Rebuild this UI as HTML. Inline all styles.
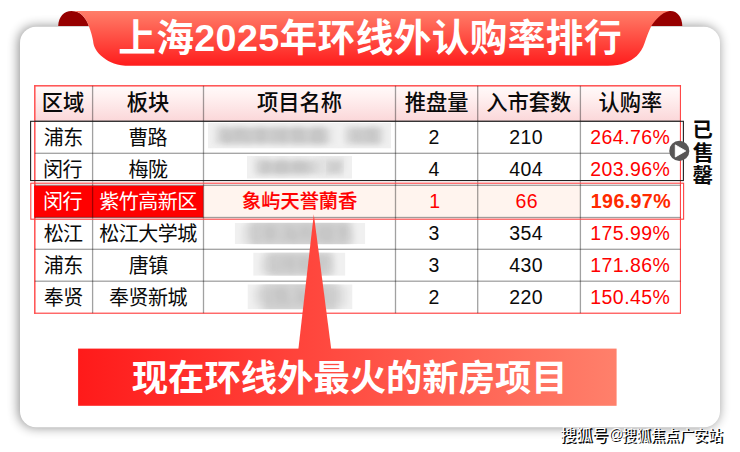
<!DOCTYPE html>
<html lang="zh-CN"><head><meta charset="utf-8"><title>上海2025年环线外认购率排行</title>
<style>
html,body{margin:0;padding:0;background:#fff;}
body{width:740px;height:452px;position:relative;overflow:hidden;font-family:"Liberation Sans",sans-serif;}
svg{position:absolute;left:0;top:0;}
svg text{font-family:"Liberation Sans","Noto Sans CJK SC",sans-serif;}
.sr{position:absolute;left:0;top:0;width:1px;height:1px;overflow:hidden;opacity:0;font-size:1px;}
</style></head><body>
<svg width="740" height="452" viewBox="0 0 740 452">
<defs>
<linearGradient id="rib" x1="0" y1="11.1" x2="0" y2="65.7" gradientUnits="userSpaceOnUse"><stop offset="0" stop-color="#ff7e69"/><stop offset="1" stop-color="#ff1c1c"/></linearGradient>
<linearGradient id="ban" x1="78.3" y1="0" x2="616.6" y2="0" gradientUnits="userSpaceOnUse"><stop offset="0" stop-color="#ff1a1a"/><stop offset="1" stop-color="#ff806b"/></linearGradient>
<linearGradient id="hdr" x1="0" y1="86" x2="0" y2="121" gradientUnits="userSpaceOnUse"><stop offset="0" stop-color="#fffafa"/><stop offset="0.3" stop-color="#fff1f1"/><stop offset="1" stop-color="#fbd7d9"/></linearGradient>
<filter id="cs" x="-10%" y="-15%" width="120%" height="130%"><feGaussianBlur stdDeviation="5.8"/></filter>
<filter id="bl" x="-20%" y="-50%" width="140%" height="200%"><feGaussianBlur stdDeviation="5 2.6"/></filter>
<filter id="bl2" x="-20%" y="-50%" width="140%" height="200%"><feGaussianBlur stdDeviation="3"/></filter>
</defs>
<rect x="18.7" y="26.8" width="700" height="400.4" rx="16" fill="#000" opacity="0.46" filter="url(#cs)"/>
<rect x="20" y="26.8" width="700" height="400.4" rx="16" fill="#fff"/>
<path d="M58.2,25.9 C58.5,17 64,11.1 71.5,11.1 C80,11.1 85.5,17 88.8,25.9 Z" fill="#960000"/><path d="M682.3,25.9 C682,17.3 677.5,11.1 670.5,11.1 L660,11.1 L650,25.9 Z" fill="#960000"/>
<path d="M71.5,11.1 C80,11.1 85.5,17 88.8,25.9 C91,32 92.5,37 93.1,41 C93.6,46 95.5,52 103.9,57.9 C109,61.9 117,65.7 130,65.7 L608,65.7 C622,65.7 630,61.8 636.7,56 C640,53 643,48 644.6,43.1 C647,36 649,30.5 651.5,25.8 C654,22 661,12.5 669.5,11.1 Z" fill="url(#rib)"/>
<text x="118.18" y="51.05" font-size="37.68" font-weight="bold" fill="#fff" textLength="503.4">上海2025年环线外认购率排行</text>
<rect x="34.8" y="85.8" width="645.7" height="35.4" fill="url(#hdr)"/>
<rect x="203.4" y="185.3" width="376.9" height="32.2" fill="#fff4ee"/>
<clipPath id="bc1"><rect x="207.8" y="122.9" width="183.4" height="25.6"/></clipPath><g clip-path="url(#bc1)"><rect x="207.8" y="122.9" width="183.4" height="25.6" fill="#f0f0f0"/><rect x="219" y="127.4" width="111" height="16.6" fill="#d4d4d4" filter="url(#bl)"/><rect x="350" y="127.4" width="32" height="16.6" fill="#d4d4d4" filter="url(#bl)"/><g filter="url(#bl2)" opacity="0.10"><text x="213.34" y="142.7" font-size="19" font-weight="bold" fill="#222">海购率排售最</text><text x="343.51" y="142.7" font-size="19" font-weight="bold" fill="#222">新房</text></g></g>
<clipPath id="bc2"><rect x="246.8" y="155.9" width="105.2" height="22.8"/></clipPath><g clip-path="url(#bc2)"><rect x="246.8" y="155.9" width="105.2" height="22.8" fill="#f0f0f0"/><rect x="259" y="160.4" width="57" height="13.8" fill="#d4d4d4" filter="url(#bl)"/><rect x="329" y="160.4" width="12" height="13.8" fill="#d4d4d4" filter="url(#bl)"/><g filter="url(#bl2)" opacity="0.10"><text x="253.54" y="174.3" font-size="19" font-weight="bold" fill="#222">罄最新</text><text x="311.64" y="174.3" font-size="19" font-weight="bold" fill="#222">项</text><text x="327.54" y="174.3" font-size="19" font-weight="bold" fill="#222">环</text></g></g>
<clipPath id="bc3"><rect x="234.7" y="222.8" width="130.6" height="21.4"/></clipPath><g clip-path="url(#bc3)"><rect x="234.7" y="222.8" width="130.6" height="21.4" fill="#f0f0f0"/><rect x="250" y="219.8" width="100" height="27.4" fill="#d4d4d4" filter="url(#bl)"/><g filter="url(#bl2)" opacity="0.10"><text x="241.56" y="240.5" font-size="19" font-weight="bold" fill="#222">房率海购罄售</text></g></g>
<clipPath id="bc4"><rect x="253.2" y="252.6" width="92.2" height="23.2"/></clipPath><g clip-path="url(#bc4)"><rect x="253.2" y="252.6" width="92.2" height="23.2" fill="#f0f0f0"/><rect x="268" y="251.6" width="63" height="25.2" fill="#d4d4d4" filter="url(#bl)"/><g filter="url(#bl2)" opacity="0.10"><text x="259.2" y="271.2" font-size="19" font-weight="bold" fill="#222">最排新线</text></g></g>
<clipPath id="bc5"><rect x="247.5" y="284.3" width="105" height="25"/></clipPath><g clip-path="url(#bc5)"><rect x="247.5" y="284.3" width="105" height="25" fill="#f0f0f0"/><rect x="262" y="281.3" width="76" height="31" fill="#d4d4d4" filter="url(#bl)"/><g filter="url(#bl2)" opacity="0.10"><text x="253.43" y="303.8" font-size="19" font-weight="bold" fill="#222">购售海率房</text></g></g>
<rect x="34.05" y="85.1" width="1.5" height="228.7" fill="#ff5050"/>
<rect x="34.05" y="85.05" width="647" height="1.5" fill="#ff5050"/>
<rect x="679.9" y="85.1" width="1.05" height="228.7" fill="#ff4040"/>
<rect x="34.05" y="312.6" width="646.9" height="1.25" fill="#ff5050"/>
<rect x="34.1" y="185.8" width="169.3" height="31.7" fill="#ff0000"/>
<rect x="91.95" y="85.8" width="1.3" height="227.4" fill="rgba(0,0,0,0.37)"/>
<rect x="202.85" y="85.8" width="1.3" height="227.4" fill="rgba(0,0,0,0.37)"/>
<rect x="394.85" y="85.8" width="1.3" height="227.4" fill="rgba(0,0,0,0.37)"/>
<rect x="477.05" y="85.8" width="1.3" height="227.4" fill="rgba(0,0,0,0.37)"/>
<rect x="579.75" y="85.8" width="1.3" height="227.4" fill="rgba(0,0,0,0.37)"/>
<rect x="34.8" y="120.55" width="645.7" height="1.3" fill="rgba(0,0,0,0.37)"/>
<rect x="34.8" y="152.65" width="645.7" height="1.3" fill="rgba(0,0,0,0.37)"/>
<rect x="34.8" y="184.65" width="645.7" height="1.3" fill="rgba(0,0,0,0.37)"/>
<rect x="34.8" y="216.85" width="645.7" height="1.3" fill="rgba(0,0,0,0.37)"/>
<rect x="34.8" y="248.65" width="645.7" height="1.3" fill="rgba(0,0,0,0.37)"/>
<rect x="34.8" y="280.55" width="645.7" height="1.3" fill="rgba(0,0,0,0.37)"/>
<rect x="34.1" y="185.8" width="169.3" height="0.9" fill="#ff0000"/>
<rect x="30.6" y="121.3" width="652.8" height="59.25" fill="none" stroke="#222" stroke-width="1.1"/>
<rect x="30.8" y="183.2" width="652.8" height="36" fill="none" stroke="#ff4444" stroke-width="1.1"/>
<text x="41.75" y="110.3" font-size="21.25" font-weight="500" fill="#0a0a0a">区域</text>
<text x="126.74" y="110.3" font-size="21.25" font-weight="500" fill="#0a0a0a">板块</text>
<text x="257.02" y="110.3" font-size="21.25" font-weight="500" fill="#0a0a0a">项目名称</text>
<text x="404.78" y="110.3" font-size="21.25" font-weight="500" fill="#0a0a0a">推盘量</text>
<text x="486.31" y="110.3" font-size="21.25" font-weight="500" fill="#0a0a0a">入市套数</text>
<text x="598.57" y="110.3" font-size="21.25" font-weight="500" fill="#0a0a0a">认购率</text>
<text x="43.77" y="144.5" font-size="20" letter-spacing="-0.5" fill="#0a0a0a">浦东</text>
<text x="128.13" y="144.5" font-size="20" letter-spacing="-0.5" fill="#0a0a0a">曹路</text>
<text x="428.54" y="143.9" font-size="19.5" font-weight="500" fill="#0a0a0a">2</text>
<text x="509.23" y="143.9" font-size="19.5" font-weight="500" fill="#0a0a0a" textLength="33.3">210</text>
<text x="590.25" y="143.9" font-size="19.5" font-weight="500" fill="#ff0000" textLength="79.7">264.76%</text>
<text x="43.07" y="176.6" font-size="20" letter-spacing="-0.5" fill="#0a0a0a">闵行</text>
<text x="128.58" y="176.6" font-size="20" letter-spacing="-0.5" fill="#0a0a0a">梅陇</text>
<text x="428.54" y="176" font-size="19.5" font-weight="500" fill="#0a0a0a">4</text>
<text x="509.23" y="176" font-size="19.5" font-weight="500" fill="#0a0a0a" textLength="33.3">404</text>
<text x="590.25" y="176" font-size="19.5" font-weight="500" fill="#ff0000" textLength="79.7">203.96%</text>
<text x="43.07" y="208.6" font-size="20" letter-spacing="-0.5" fill="#fff">闵行</text>
<text x="99.37" y="208.6" font-size="20" letter-spacing="-0.5" fill="#fff">紫竹高新区</text>
<text x="242.12" y="207.7" font-size="19.2" font-weight="500" fill="#ff0000" stroke="#ff0000" stroke-width="0.17">象屿天誉蘭香</text>
<text x="429.24" y="208" font-size="19.5" font-weight="500" fill="#ff0000">1</text>
<text x="515.49" y="208" font-size="19.5" font-weight="500" fill="#ff0000" textLength="22.2">66</text>
<text x="590.78" y="208" font-size="19.6" font-weight="bold" fill="#ff2a00" textLength="79.8">196.97%</text>
<text x="43.63" y="240.8" font-size="20" letter-spacing="-0.5" fill="#0a0a0a">松江</text>
<text x="99.28" y="240.8" font-size="20" letter-spacing="-0.5" fill="#0a0a0a">松江大学城</text>
<text x="428.54" y="240.2" font-size="19.5" font-weight="500" fill="#0a0a0a">3</text>
<text x="509.23" y="240.2" font-size="19.5" font-weight="500" fill="#0a0a0a" textLength="33.3">354</text>
<text x="590.25" y="240.2" font-size="19.5" font-weight="500" fill="#ff0000" textLength="79.7">175.99%</text>
<text x="43.77" y="272.6" font-size="20" letter-spacing="-0.5" fill="#0a0a0a">浦东</text>
<text x="128.66" y="272.6" font-size="20" letter-spacing="-0.5" fill="#0a0a0a">唐镇</text>
<text x="428.54" y="272" font-size="19.5" font-weight="500" fill="#0a0a0a">3</text>
<text x="509.23" y="272" font-size="19.5" font-weight="500" fill="#0a0a0a" textLength="33.3">430</text>
<text x="590.25" y="272" font-size="19.5" font-weight="500" fill="#ff0000" textLength="79.7">171.86%</text>
<text x="43.66" y="304.5" font-size="20" letter-spacing="-0.5" fill="#0a0a0a">奉贤</text>
<text x="109.03" y="304.5" font-size="20" letter-spacing="-0.5" fill="#0a0a0a">奉贤新城</text>
<text x="428.54" y="303.9" font-size="19.5" font-weight="500" fill="#0a0a0a">2</text>
<text x="509.23" y="303.9" font-size="19.5" font-weight="500" fill="#0a0a0a" textLength="33.3">220</text>
<text x="590.25" y="303.9" font-size="19.5" font-weight="500" fill="#ff0000" textLength="79.7">150.45%</text>
<circle cx="679.3" cy="150.9" r="10.05" fill="#585656"/><path d="M675.3,144.9 L685.7,150.95 L675.3,157 Z" fill="#fff" stroke="#fff" stroke-width="0.9" stroke-linejoin="round"/>
<text x="692.55" y="137.18" font-size="20.3" font-weight="bold" fill="#0a0a0a">已</text>
<text x="692.68" y="160.48" font-size="21" font-weight="bold" fill="#0a0a0a">售</text>
<text x="692.6" y="183.24" font-size="20.6" font-weight="bold" fill="#0a0a0a">罄</text>
<path d="M313.8,214.2 L331.2,349 L298.4,349 Z" fill="url(#ban)"/>
<rect x="78.1" y="348.6" width="538.5" height="57.2" fill="url(#ban)"/>
<text x="131.76" y="390.8" font-size="36.35" font-weight="bold" fill="#fff">现在环线外最火的新房项目</text>
<text x="561.52" y="441.95" font-size="16" font-weight="500" fill="#050505" stroke="#050505" stroke-width="0.22">搜狐号</text><text x="560.18" y="440.7" font-size="16" fill="#fff">搜狐号</text>
<text x="609.66" y="439.7" font-size="14" font-weight="500" fill="#050505">@</text><text x="608.39" y="438.5" font-size="14.5" fill="#fff">@</text>
<text x="623.28" y="441.85" font-size="14.36" font-weight="500" fill="#050505" stroke="#050505" stroke-width="0.2">搜狐焦点广安站</text><text x="621.94" y="440.6" font-size="14.36" fill="#fff">搜狐焦点广安站</text>
</svg>
<div class="sr"><h1>上海2025年环线外认购率排行</h1><table><tr><th>区域</th><th>板块</th><th>项目名称</th><th>推盘量</th><th>入市套数</th><th>认购率</th></tr><tr><td>浦东</td><td>曹路</td><td></td><td>2</td><td>210</td><td>264.76%</td></tr><tr><td>闵行</td><td>梅陇</td><td></td><td>4</td><td>404</td><td>203.96%</td></tr><tr><td>闵行</td><td>紫竹高新区</td><td>象屿天誉蘭香</td><td>1</td><td>66</td><td>196.97%</td></tr><tr><td>松江</td><td>松江大学城</td><td></td><td>3</td><td>354</td><td>175.99%</td></tr><tr><td>浦东</td><td>唐镇</td><td></td><td>3</td><td>430</td><td>171.86%</td></tr><tr><td>奉贤</td><td>奉贤新城</td><td></td><td>2</td><td>220</td><td>150.45%</td></tr></table><p>已售罄</p><p>现在环线外最火的新房项目</p><p>搜狐号@搜狐焦点广安站</p></div>
</body></html>
